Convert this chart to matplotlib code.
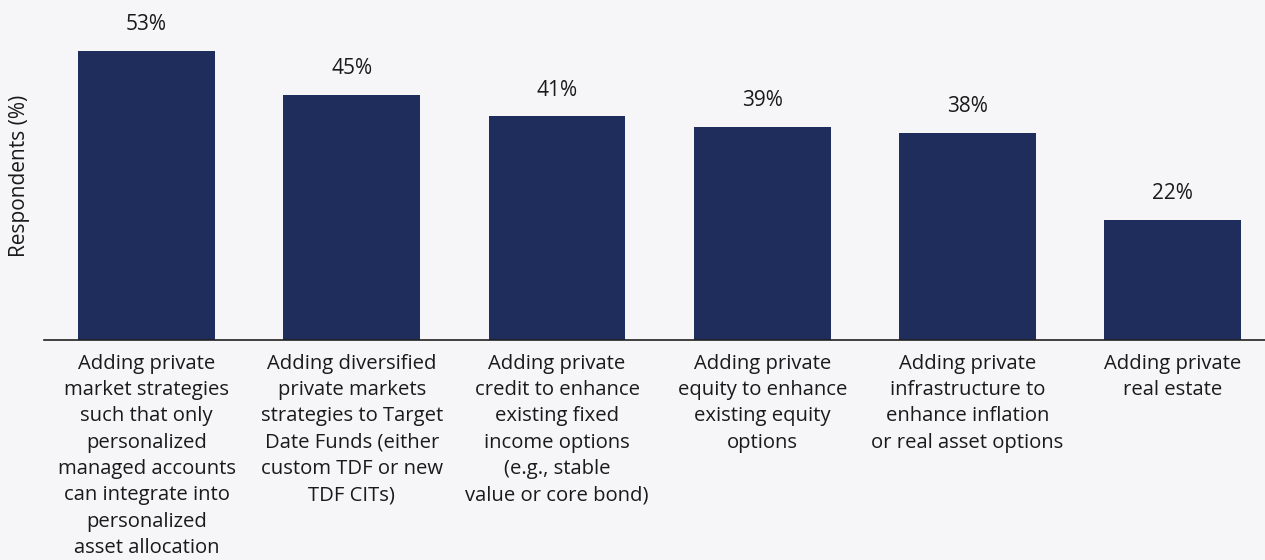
import matplotlib
matplotlib.use("Agg")
import matplotlib.pyplot as plt

categories = [
    "Adding private\nmarket strategies\nsuch that only\npersonalized\nmanaged accounts\ncan integrate into\npersonalized\nasset allocation",
    "Adding diversified\nprivate markets\nstrategies to Target\nDate Funds (either\ncustom TDF or new\nTDF CITs)",
    "Adding private\ncredit to enhance\nexisting fixed\nincome options\n(e.g., stable\nvalue or core bond)",
    "Adding private\nequity to enhance\nexisting equity\noptions",
    "Adding private\ninfrastructure to\nenhance inflation\nor real asset options",
    "Adding private\nreal estate",
]
values = [53, 45, 41, 39, 38, 22]

BG = "#f6f6f9"
BAR = "#1e2d5c"
TXT = "#1a1a1a"

plt.rcParams["font.family"] = ["Open Sans", "DejaVu Sans"]

W, H = 1265, 560
fig = plt.figure(figsize=(W / 100, H / 100), dpi=100, facecolor=BG)
ax = fig.add_axes([44 / W, 1 - 340 / H, 1 - 44 / W, (340 - 12.8) / H])
ax.set_facecolor(BG)

x = list(range(len(values)))
bars = ax.bar(x, values, width=0.667, color=BAR)
ax.set_xlim(-0.5, 5.45)
ax.set_ylim(0, 60)

for xi, v in zip(x, values):
    ax.annotate(f"{v}%", (xi, v), xytext=(0, 15), textcoords="offset points",
                ha="center", va="baseline", fontsize=15, color=TXT)

ax.set_xticks(x)
ax.set_xticklabels(categories, fontsize=14.6, color=TXT, linespacing=1.42, va="top")
ax.tick_params(axis="x", length=0, pad=10)
ax.set_yticks([])
for s in ["top", "right", "left"]:
    ax.spines[s].set_visible(False)
ax.spines["bottom"].set_color("#222222")
ax.spines["bottom"].set_linewidth(1.2)

fig.text(20 / W, 1 - 176 / H, "Respondents (%)", rotation=90, ha="center",
         va="center", fontsize=15, color=TXT)

fig.savefig("out.png", dpi=100, facecolor=BG)
